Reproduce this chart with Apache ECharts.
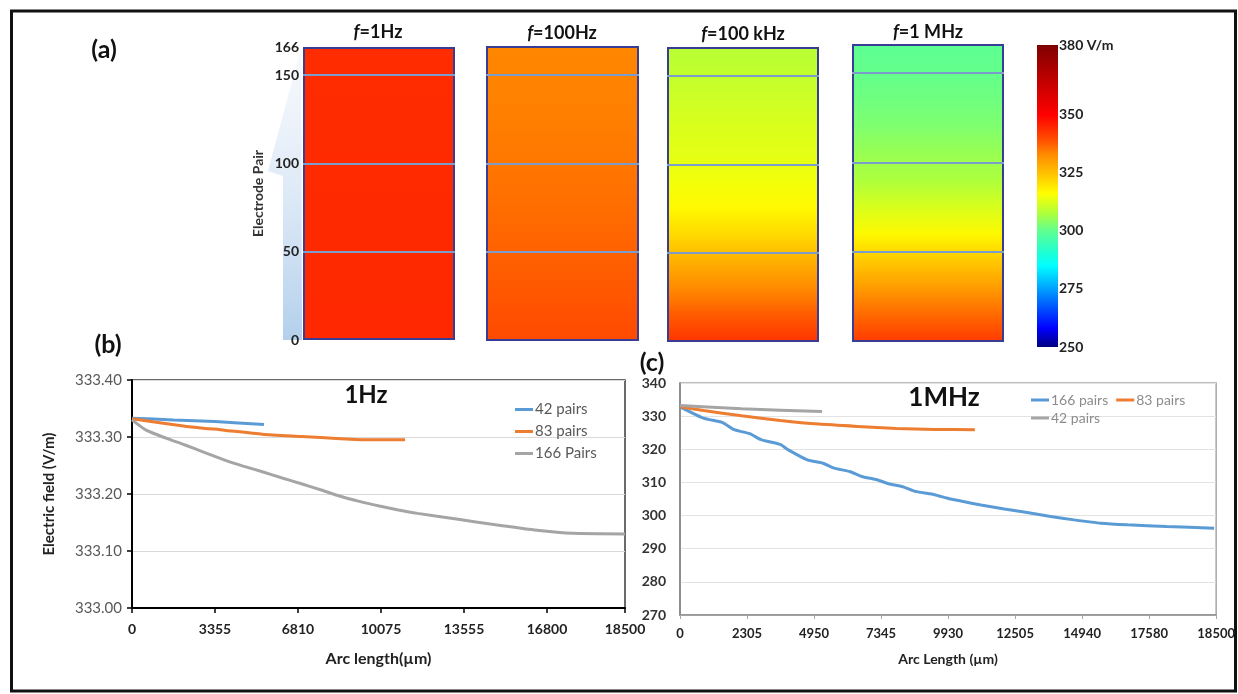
<!DOCTYPE html>
<html>
<head>
<meta charset="utf-8">
<style>
html, body { margin: 0; padding: 0; background: #fff; }
#main { width: 1238px; height: 694px; }
</style>
</head>
<body>
<div id="main"></div>
<script src="https://cdn.jsdelivr.net/npm/echarts@6/dist/echarts.min.js"></script>
<script>
// ---------- panel (a): field along the electrode pairs, read through the colour bar ----------
var freqNames = ['1Hz', '100Hz', '100 kHz', '1 MHz'];
var pairAxisMax = 166;
var pairMarks = [50, 100, 150];
var profilePairs = [0, 15, 30, 45, 60, 75, 90, 105, 120, 135, 150, 166];
var field1Hz   = [344.5, 344.5, 344.4, 344.4, 344.3, 344.3, 344.2, 344.2, 344.1, 344.1, 344.0, 344.0];
var field100Hz = [339.8, 339.0, 338.2, 337.4, 336.7, 336.0, 335.4, 334.8, 334.3, 333.9, 333.6, 333.3];
var field100kHz = [343.0, 338.0, 333.0, 327.5, 321.5, 317.0, 314.8, 313.2, 312.2, 311.0, 309.8, 308.6];
var field1MHz  = [342.0, 336.5, 330.5, 323.8, 317.0, 312.0, 307.5, 305.4, 303.0, 301.5, 300.4, 299.4];

// colour bar
var colorbarMin = 250;
var colorbarMax = 380;
var colorbarStep = 25;
var cmapStops  = [250, 258, 265, 275, 285, 291, 300, 307, 316, 325, 333, 339, 350, 365, 380];
var cmapColors = ['#00007f', '#0000ff', '#0040ff', '#00a0ff', '#00ffff', '#20ffd0', '#60ff90',
                  '#a8ff40', '#ffff00', '#ffc000', '#ff8a00', '#ff5000', '#ff0000', '#c00000', '#7f0000'];

// ---------- panel (b): 1Hz ----------
var bTickLabels = ['0', '3355', '6810', '10075', '13555', '16800', '18500'];
var bLastTickPos = 5.94;
var bPos42  = [0, 0.5, 1.0, 1.59];
var bVal42  = [333.333, 333.330, 333.327, 333.322];
var bPos83  = [0, 0.64, 1.11, 1.57, 2.04, 2.51, 2.84, 3.29];
var bVal83  = [333.332, 333.319, 333.312, 333.305, 333.301, 333.297, 333.295, 333.295];
var bPos166 = [0, 0.17, 0.41, 0.64, 0.87, 1.11, 1.34, 1.57, 1.81, 2.04, 2.28, 2.51, 2.74, 2.98, 3.21, 3.44, 3.91, 4.38, 4.85, 5.31, 5.94];
var bVal166 = [333.330, 333.312, 333.298, 333.286, 333.273, 333.260, 333.249, 333.239, 333.228, 333.218, 333.207,
               333.196, 333.187, 333.179, 333.172, 333.166, 333.156, 333.146, 333.137, 333.131, 333.130];

// ---------- panel (c): 1MHz ----------
var cTickLabels = ['0', '2305', '4950', '7345', '9930', '12505', '14940', '17580', '18500'];
var cPos166 = [0, 0.35, 0.63, 0.81, 1.04, 1.21, 1.50, 1.61, 1.90, 2.13, 2.30, 2.53, 2.71, 2.94, 3.11, 3.34,
               3.51, 3.80, 3.98, 4.21, 4.49, 4.84, 5.18, 5.53, 5.88, 6.28, 6.68, 7.26, 7.97];
var cVal166 = [332.8, 329.4, 328.1, 325.9, 324.7, 322.9, 321.4, 319.9, 316.8, 315.8, 314.3, 313.3, 311.8, 310.8, 309.6, 308.6,
               307.3, 306.3, 305.3, 304.3, 303.2, 302.0, 300.9, 299.7, 298.7, 297.7, 297.2, 296.7, 296.2];
var cPos83  = [0, 0.35, 0.92, 1.50, 2.07, 2.65, 3.23, 3.80, 4.40];
var cVal83  = [332.8, 331.7, 330.1, 328.7, 327.6, 326.9, 326.3, 326.0, 325.9];
var cPos42  = [0, 0.92, 2.12];
var cVal42  = [333.2, 332.2, 331.4];

var font = 'Lato, "Liberation Sans", sans-serif';

function zip(xs, ys) {
    var out = [];
    for (var i = 0; i < xs.length; i++) out.push([xs[i], ys[i]]);
    return out;
}

function hexToRgb(h) {
    return [parseInt(h.substr(1, 2), 16), parseInt(h.substr(3, 2), 16), parseInt(h.substr(5, 2), 16)];
}

// value -> colour, piecewise between the colour bar stops
function cmap(v) {
    if (v <= cmapStops[0]) return cmapColors[0];
    for (var i = 0; i < cmapStops.length - 1; i++) {
        if (v <= cmapStops[i + 1]) {
            var t = (v - cmapStops[i]) / (cmapStops[i + 1] - cmapStops[i]);
            var a = hexToRgb(cmapColors[i]), b = hexToRgb(cmapColors[i + 1]);
            return 'rgb(' + Math.round(a[0] + (b[0] - a[0]) * t) + ',' +
                Math.round(a[1] + (b[1] - a[1]) * t) + ',' +
                Math.round(a[2] + (b[2] - a[2]) * t) + ')';
        }
    }
    return cmapColors[cmapColors.length - 1];
}

function profileGradient(vals) {
    var stops = [];
    for (var i = profilePairs.length - 1; i >= 0; i--) {
        stops.push({ offset: 1 - profilePairs[i] / pairAxisMax, color: cmap(vals[i]) });
    }
    return new echarts.graphic.LinearGradient(0, 0, 0, 1, stops);
}

function colorbarGradient() {
    var stops = [];
    for (var i = cmapStops.length - 1; i >= 0; i--) {
        stops.push({ offset: (colorbarMax - cmapStops[i]) / (colorbarMax - colorbarMin), color: cmapColors[i] });
    }
    return new echarts.graphic.LinearGradient(0, 0, 0, 1, stops);
}

var chart = echarts.init(document.getElementById('main'));

var rectGrids = [
    { left: 303, top: 47, width: 152, height: 293 },
    { left: 486, top: 46, width: 153, height: 295 },
    { left: 667, top: 47, width: 152, height: 295 },
    { left: 852, top: 44, width: 152, height: 298 }
];
var fields = [field1Hz, field100Hz, field100kHz, field1MHz];

var grids = rectGrids.slice();
grids.push({ left: 1037, top: 45, width: 21, height: 302 });                                              // colour bar
grids.push({ left: 132, top: 380, width: 493, height: 228, show: true, borderColor: '#3a3a3a', borderWidth: 1.5 }); // (b)
grids.push({ left: 680, top: 383, width: 541, height: 232, show: true, borderColor: '#a6a6a6', borderWidth: 1.5 }); // (c)

var xAxes = [], yAxes = [], series = [];

rectGrids.forEach(function (g, i) {
    xAxes.push({ type: 'category', gridIndex: i, data: [freqNames[i]], show: false });
    yAxes.push({
        type: 'value', gridIndex: i, min: 0, max: pairAxisMax, interval: 50,
        show: i === 0,
        axisLine: { show: false }, axisTick: { show: false }, splitLine: { show: false },
        axisLabel: { fontWeight: 'bold', fontSize: 14, color: '#222', margin: 4, fontFamily: font },
        name: i === 0 ? 'Electrode Pair' : '', nameLocation: 'middle', nameGap: 38,
        nameTextStyle: { fontWeight: 'bold', fontSize: 14, color: '#333', fontFamily: font }
    });
    series.push({
        type: 'bar', xAxisIndex: i, yAxisIndex: i, barWidth: '100%', silent: true,
        data: [{ value: pairAxisMax, itemStyle: { color: profileGradient(fields[i]) } }],
        itemStyle: { borderColor: '#383c92', borderWidth: 2 },
        markLine: {
            silent: true, symbol: 'none', label: { show: false },
            lineStyle: { color: '#7c9ccc', width: 2, type: 'solid' },
            data: pairMarks.map(function (p) { return { yAxis: p }; })
        }
    });
});

// colour bar
xAxes.push({ type: 'category', gridIndex: 4, data: ['E'], show: false });
yAxes.push({
    type: 'value', gridIndex: 4, position: 'right', min: colorbarMin, max: colorbarMax, interval: colorbarStep,
    axisLine: { show: false }, axisTick: { show: false }, splitLine: { show: false },
    axisLabel: {
        fontWeight: 'bold', fontSize: 14, color: '#222', margin: 1, fontFamily: font,
        formatter: function (v) {
            if (v === colorbarMax) return colorbarMax + ' V/m';
            if (colorbarMax - v < colorbarStep / 2) return '';
            return String(v);
        }
    }
});
series.push({ type: 'bar', xAxisIndex: 4, yAxisIndex: 4, stack: 'cb', barWidth: '100%', silent: true,
    data: [colorbarMin], itemStyle: { color: 'rgba(0,0,0,0)' } });
series.push({ type: 'bar', xAxisIndex: 4, yAxisIndex: 4, stack: 'cb', barWidth: '100%', silent: true,
    data: [{ value: colorbarMax - colorbarMin, itemStyle: { color: colorbarGradient() } }] });

// (b)
xAxes.push({
    type: 'value', gridIndex: 5, min: 0, max: bLastTickPos, interval: 1,
    axisLine: { lineStyle: { color: '#000', width: 2 } },
    axisTick: { show: true, length: 5, lineStyle: { color: '#000', width: 1.5 } },
    splitLine: { show: false },
    axisLabel: {
        fontWeight: 'bold', fontSize: 14, color: '#222', margin: 14, fontFamily: font,
        formatter: function (v) {
            if (Math.abs(v - bLastTickPos) < 1e-6) return bTickLabels[bTickLabels.length - 1];
            return bTickLabels[Math.round(v)];
        }
    },
    name: 'Arc length(µm)', nameLocation: 'middle', nameGap: 43,
    nameTextStyle: { fontWeight: 'bold', fontSize: 16, color: '#222', fontFamily: font }
});
yAxes.push({
    type: 'value', gridIndex: 5, min: 333.0, max: 333.4, interval: 0.1,
    axisLine: { show: true, lineStyle: { color: '#000', width: 2 } },
    axisTick: { show: true, length: 5, lineStyle: { color: '#000', width: 1.5 } },
    splitLine: { lineStyle: { color: '#d9d9d9' } },
    axisLabel: { fontSize: 15, color: '#595959', margin: 10, fontFamily: font,
        formatter: function (v) { return v.toFixed(2); } },
    name: 'Electric field (V/m)', nameLocation: 'middle', nameGap: 75,
    nameTextStyle: { fontWeight: 'bold', fontSize: 15, color: '#222', fontFamily: font }
});
series.push({ name: '42 pairs', type: 'line', xAxisIndex: 5, yAxisIndex: 5, data: zip(bPos42, bVal42),
    showSymbol: false, smooth: 0.2, lineStyle: { color: '#5b9bd5', width: 3 }, itemStyle: { color: '#5b9bd5' } });
series.push({ name: '83 pairs', type: 'line', xAxisIndex: 5, yAxisIndex: 5, data: zip(bPos83, bVal83),
    showSymbol: false, smooth: 0.2, lineStyle: { color: '#ed7d31', width: 3 }, itemStyle: { color: '#ed7d31' } });
series.push({ name: '166 Pairs', type: 'line', xAxisIndex: 5, yAxisIndex: 5, data: zip(bPos166, bVal166),
    showSymbol: false, smooth: 0.2, lineStyle: { color: '#a5a5a5', width: 3 }, itemStyle: { color: '#a5a5a5' } });

// (c)
xAxes.push({
    type: 'value', gridIndex: 6, min: 0, max: cTickLabels.length - 1, interval: 1,
    axisLine: { lineStyle: { color: '#8c8c8c', width: 1.5 } },
    axisTick: { show: true, length: 4, lineStyle: { color: '#a6a6a6' } },
    splitLine: { show: false },
    axisLabel: { fontWeight: 'bold', fontSize: 13, color: '#222', margin: 12, fontFamily: font,
        formatter: function (v) { return cTickLabels[Math.round(v)]; } },
    name: 'Arc Length (µm)', nameLocation: 'middle', nameGap: 37,
    nameTextStyle: { fontWeight: 'bold', fontSize: 14, color: '#222', fontFamily: font }
});
yAxes.push({
    type: 'value', gridIndex: 6, min: 270, max: 340, interval: 10,
    axisLine: { show: true, lineStyle: { color: '#7f7f7f', width: 1.5 } },
    axisTick: { show: false },
    splitLine: { lineStyle: { color: '#e3e3e3' } },
    axisLabel: { fontWeight: 'bold', fontSize: 14, color: '#333', margin: 14, fontFamily: font }
});
series.push({ name: '166 pairs', type: 'line', xAxisIndex: 6, yAxisIndex: 6, data: zip(cPos166, cVal166),
    showSymbol: false, smooth: 0.2, lineStyle: { color: '#5b9bd5', width: 3 }, itemStyle: { color: '#5b9bd5' } });
series.push({ name: '83 pairs', type: 'line', xAxisIndex: 6, yAxisIndex: 6, data: zip(cPos83, cVal83),
    showSymbol: false, smooth: 0.2, lineStyle: { color: '#ed7d31', width: 3 }, itemStyle: { color: '#ed7d31' } });
series.push({ name: '42 pairs', type: 'line', xAxisIndex: 6, yAxisIndex: 6, data: zip(cPos42, cVal42),
    showSymbol: false, smooth: 0.2, lineStyle: { color: '#a5a5a5', width: 3 }, itemStyle: { color: '#a5a5a5' } });

var legendCommon = { icon: 'rect', itemWidth: 18, itemHeight: 3, selectedMode: false };

var option = {
    animation: false,
    backgroundColor: '#fff',
    textStyle: { fontFamily: font },
    grid: grids,
    xAxis: xAxes,
    yAxis: yAxes,
    series: series,
    legend: [
        Object.assign({}, legendCommon, {
            data: ['42 pairs', '83 pairs', '166 Pairs'], orient: 'vertical', left: 510, top: 397, itemGap: 7,
            textStyle: { color: '#595959', fontSize: 15, fontFamily: font, padding: [0, 0, 0, -3] }
        }),
        Object.assign({}, legendCommon, {
            data: ['166 pairs', '83 pairs'], orient: 'horizontal', left: 1026, top: 388, itemGap: 8,
            textStyle: { color: '#8c8c8c', fontSize: 14, fontFamily: font, padding: [0, 0, 0, -3] }
        }),
        Object.assign({}, legendCommon, {
            data: [{ name: '42 pairs', itemStyle: { color: '#a5a5a5' } }], orient: 'horizontal', left: 1026, top: 406,
            textStyle: { color: '#8c8c8c', fontSize: 14, fontFamily: font, padding: [0, 0, 0, -3] }
        })
    ],
    graphic: [
        { type: 'rect', shape: { x: 11.5, y: 11, width: 1224, height: 680 },
          style: { fill: 'none', stroke: '#111', lineWidth: 3 }, silent: true },
        { type: 'polygon', z: -10, silent: true,
          shape: { points: [[301, 48], [302, 340], [283, 340], [283, 176], [268, 171]] },
          style: { fill: new echarts.graphic.LinearGradient(0, 0, 0, 1, [
              { offset: 0, color: 'rgba(235,241,250,0.4)' },
              { offset: 1, color: 'rgba(170,202,234,0.9)' }]) } },
        { type: 'text', x: 104, y: 50, style: { text: '(a)', font: 'bold 25px ' + font, fill: '#111', align: 'center', verticalAlign: 'middle' } },
        { type: 'text', x: 108, y: 345, style: { text: '(b)', font: 'bold 25px ' + font, fill: '#111', align: 'center', verticalAlign: 'middle' } },
        { type: 'text', x: 652, y: 363, style: { text: '(c)', font: 'bold 25px ' + font, fill: '#111', align: 'center', verticalAlign: 'middle' } },
        { type: 'text', x: 366, y: 395, style: { text: '1Hz', font: 'bold 24px ' + font, fill: '#111', align: 'center', verticalAlign: 'middle' } },
        { type: 'text', x: 944, y: 398, style: { text: '1MHz', font: 'bold 26px ' + font, fill: '#111', align: 'center', verticalAlign: 'middle' } }
    ]
};

// frequency titles above the colour maps
var titleX = [378, 562, 743, 928];
var titleY = [32, 33, 34, 32];
freqNames.forEach(function (n, i) {
    option.graphic.push({
        type: 'text', x: titleX[i], y: titleY[i],
        style: {
            text: '{i|f}=' + n, align: 'center', verticalAlign: 'middle',
            font: 'bold 18px ' + font, fill: '#111',
            rich: { i: { fontStyle: 'italic', fontWeight: 'bold', fontSize: 18, fontFamily: font, fill: '#111' } }
        }
    });
});

chart.setOption(option);
</script>
</body>
</html>
